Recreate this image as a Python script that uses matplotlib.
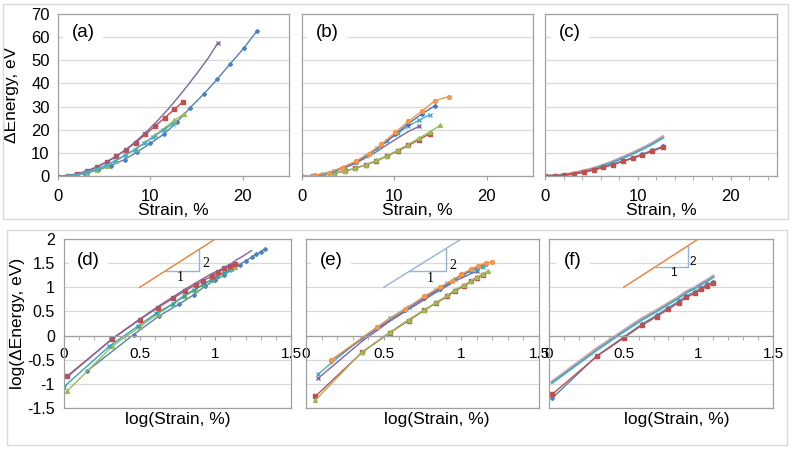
import matplotlib.pyplot as plt
import matplotlib.patches as patches

plt.rcParams['font.family'] = ['Liberation Sans', 'DejaVu Sans']
plt.rcParams['axes.unicode_minus'] = False

W, H = 793, 450

BLUE = '#4F81BD'
RED = '#C0504D'
GREEN = '#9BBB59'
PURPLE = '#8064A2'
AQUA = '#4BACC6'
ORANGE = '#F79646'
PINK = '#E6A3A2'
REF_ORANGE = '#ED7D31'
REF_BLUE = '#8DB4E2'
GRID = '#D9D9D9'
EDGE = '#A0A0A0'

# ---- (a) strain %, energy eV
a_blue_x = [0, 1.4, 2.9, 4.3, 5.7, 7.2, 8.6, 10.0, 11.5, 12.9, 14.3, 15.8, 17.2, 18.6, 20.1, 21.5]
a_blue_y = [0, 0.18, 1.05, 2.6, 4.5, 7.1, 10.5, 14.1, 18.2, 23.4, 29.5, 35.5, 41.7, 48.3, 55.2, 62.5]
a_red_x = [1.05, 2.1, 3.15, 4.2, 5.25, 6.3, 7.35, 8.4, 9.45, 10.5, 11.55, 12.6, 13.5]
a_red_y = [0.15, 0.9, 2.2, 4.0, 6.1, 8.6, 11.3, 14.4, 18.0, 21.5, 25.2, 28.8, 32.0]
a_green_x = [1.05, 2.1, 3.15, 4.2, 5.25, 6.3, 7.35, 8.4, 9.45, 10.5, 11.55, 12.6, 13.6]
a_green_y = [0.07, 0.6, 1.5, 2.8, 4.5, 6.6, 9.0, 11.6, 14.5, 17.6, 20.8, 24.0, 26.8]
a_purple_x = [1.0, 2.1, 3.2, 4.3, 5.4, 6.5, 7.6, 8.6, 9.7, 10.8, 11.9, 13.0, 14.1, 15.2, 16.3, 17.3]
a_purple_y = [0.14, 0.9, 2.2, 4.0, 6.3, 9.0, 12.2, 15.6, 19.6, 24.0, 28.8, 34.0, 39.5, 45.2, 51.2, 57.5]
a_aqua_x = [1.0, 2.0, 3.1, 4.1, 5.2, 6.2, 7.2, 8.3, 9.3, 10.3, 11.4, 12.4]
a_aqua_y = [0.09, 0.6, 1.6, 2.9, 4.6, 6.6, 8.9, 11.4, 14.1, 16.9, 19.9, 22.5]

# ---- (b)
b_orange_x = [0, 1.4, 2.9, 4.3, 5.8, 7.2, 8.6, 10.1, 11.5, 13.0, 14.4, 15.9]
b_orange_y = [0, 0.3, 1.5, 3.6, 6.3, 9.7, 13.7, 18.9, 23.6, 28.1, 32.6, 34.3]
b_blue_x = [0, 1.4, 2.9, 4.3, 5.8, 7.2, 8.6, 10.1, 11.5, 13.0, 14.4]
b_blue_y = [0, 0.3, 1.4, 3.4, 6.0, 9.3, 13.2, 18.0, 22.6, 26.9, 30.4]
b_aqua_x = [1.2, 2.3, 3.5, 4.6, 5.8, 6.9, 8.1, 9.2, 10.4, 11.5, 12.7, 13.8]
b_aqua_y = [0.16, 0.9, 2.3, 4.0, 6.2, 8.8, 11.9, 15.2, 18.6, 21.6, 24.2, 26.4]
b_purple_x = [1.2, 2.3, 3.5, 4.6, 5.8, 6.9, 8.1, 9.2, 10.4, 11.5, 12.7]
b_purple_y = [0.13, 0.75, 2.0, 3.5, 5.5, 7.9, 10.6, 13.5, 16.5, 19.2, 21.5]
b_red_x = [1.15, 2.3, 3.45, 4.6, 5.75, 6.9, 8.05, 9.2, 10.35, 11.5, 12.65, 13.8]
b_red_y = [0.055, 0.45, 1.15, 2.05, 3.3, 4.8, 6.5, 8.6, 10.8, 13.2, 15.7, 18.2]
b_green_x = [1.15, 2.3, 3.45, 4.6, 5.75, 6.9, 8.05, 9.2, 10.35, 11.5, 12.65, 13.8, 14.95]
b_green_y = [0.05, 0.46, 1.17, 2.1, 3.4, 4.9, 6.7, 8.8, 11.1, 13.6, 16.3, 18.9, 21.9]

# ---- (c)
c_x = [0, 1.05, 2.1, 3.15, 4.2, 5.25, 6.3, 7.35, 8.4, 9.45, 10.5, 11.55, 12.7]
c_pink_y = [0, 0.11, 0.54, 1.26, 2.24, 3.3, 4.7, 6.3, 8.1, 10.0, 12.0, 14.1, 17.0]
c_aqua_y = [0, 0.1, 0.5, 1.2, 2.1, 3.2, 4.5, 6.0, 7.8, 9.6, 11.6, 13.8, 16.5]
c_blue_y = [0, 0.05, 0.38, 0.95, 1.7, 2.7, 3.85, 5.1, 6.5, 7.9, 9.5, 11.1, 12.8]
c_red_y = [0, 0.06, 0.37, 0.9, 1.6, 2.6, 3.7, 4.9, 6.3, 7.6, 9.1, 10.7, 12.4]

# ---- (d) log strain, log energy
d_blue_x = [0.15, 0.46, 0.63, 0.76, 0.86, 0.93, 1.0, 1.06, 1.11, 1.16, 1.2, 1.24, 1.27, 1.3, 1.33]
d_blue_y = [-0.74, 0.02, 0.41, 0.65, 0.85, 1.02, 1.15, 1.26, 1.37, 1.47, 1.55, 1.62, 1.68, 1.74, 1.80]
d_red_x = [0.02, 0.32, 0.5, 0.62, 0.72, 0.8, 0.87, 0.92, 0.98, 1.02, 1.06, 1.1, 1.13]
d_red_y = [-0.84, -0.07, 0.33, 0.58, 0.77, 0.93, 1.05, 1.14, 1.24, 1.32, 1.40, 1.45, 1.49]
d_green_x = [0.02, 0.32, 0.5, 0.62, 0.72, 0.8, 0.87, 0.92, 0.98, 1.02, 1.06, 1.1, 1.13]
d_green_y = [-1.15, -0.22, 0.18, 0.45, 0.65, 0.82, 0.95, 1.06, 1.16, 1.25, 1.32, 1.38, 1.43]
d_purple_x = [0.02, 0.32, 0.5, 0.62, 0.72, 0.8, 0.87, 0.93, 0.98, 1.03, 1.07, 1.11, 1.14, 1.18, 1.21, 1.24]
d_purple_y = [-0.86, -0.06, 0.34, 0.6, 0.8, 0.96, 1.09, 1.2, 1.29, 1.36, 1.43, 1.50, 1.57, 1.64, 1.70, 1.76]
d_aqua_x = [0.0, 0.3, 0.49, 0.61, 0.72, 0.79, 0.86, 0.92, 0.97, 1.01, 1.06, 1.09]
d_aqua_y = [-1.06, -0.22, 0.2, 0.46, 0.66, 0.82, 0.95, 1.06, 1.15, 1.23, 1.30, 1.35]

# ---- (e)
e_orange_x = [0.16, 0.46, 0.64, 0.76, 0.86, 0.94, 1.0, 1.06, 1.11, 1.16, 1.2]
e_orange_y = [-0.51, 0.18, 0.55, 0.81, 1.0, 1.14, 1.27, 1.37, 1.45, 1.51, 1.53]
e_blue_x = [0.16, 0.46, 0.64, 0.76, 0.86, 0.94, 1.0, 1.06, 1.11, 1.16]
e_blue_y = [-0.52, 0.15, 0.53, 0.78, 0.97, 1.12, 1.26, 1.35, 1.43, 1.48]
e_aqua_x = [0.08, 0.36, 0.54, 0.66, 0.76, 0.84, 0.91, 0.96, 1.02, 1.06, 1.1, 1.14]
e_aqua_y = [-0.79, -0.05, 0.36, 0.6, 0.79, 0.94, 1.08, 1.18, 1.27, 1.33, 1.38, 1.42]
e_purple_x = [0.08, 0.36, 0.54, 0.66, 0.76, 0.84, 0.91, 0.96, 1.02, 1.06, 1.1]
e_purple_y = [-0.88, -0.12, 0.3, 0.54, 0.74, 0.9, 1.03, 1.13, 1.22, 1.28, 1.33]
e_red_x = [0.06, 0.36, 0.54, 0.66, 0.76, 0.84, 0.91, 0.96, 1.02, 1.06, 1.1, 1.14]
e_red_y = [-1.26, -0.35, 0.06, 0.31, 0.52, 0.68, 0.81, 0.93, 1.03, 1.12, 1.2, 1.26]
e_green_x = [0.06, 0.36, 0.54, 0.66, 0.76, 0.84, 0.91, 0.96, 1.02, 1.06, 1.1, 1.14, 1.17]
e_green_y = [-1.34, -0.34, 0.07, 0.33, 0.53, 0.69, 0.83, 0.95, 1.05, 1.13, 1.21, 1.28, 1.34]

# ---- (f)
f_x = [0.02, 0.32, 0.5, 0.62, 0.72, 0.8, 0.87, 0.92, 0.98, 1.02, 1.06, 1.1]
f_pink_y = [-0.96, -0.27, 0.1, 0.35, 0.52, 0.67, 0.8, 0.91, 1.0, 1.08, 1.15, 1.23]
f_aqua_y = [-0.98, -0.3, 0.08, 0.32, 0.5, 0.65, 0.78, 0.89, 0.98, 1.06, 1.13, 1.21]
f_blue_y = [-1.3, -0.42, -0.03, 0.23, 0.42, 0.58, 0.71, 0.82, 0.91, 0.99, 1.06, 1.11]
f_red_y = [-1.22, -0.43, -0.05, 0.21, 0.39, 0.55, 0.68, 0.79, 0.88, 0.96, 1.03, 1.09]

# slope-2 guide lines and the 1:2 triangles
guide_x = [0.5, 1.0]
guide_y = [1.0, 2.0]
d_tri_x = [0.67, 0.89, 0.89]
d_tri_y = [1.34, 1.34, 1.78]
e_tri_x = [0.67, 0.90, 0.90]
e_tri_y = [1.34, 1.34, 1.80]
f_tri_x = [0.71, 0.93, 0.93]
f_tri_y = [1.42, 1.42, 1.86]

log_ticks = [-1.5, -1, -0.5, 0, 0.5, 1, 1.5, 2]
log_tick_labels = ['-1.5', '-1', '-0.5', '0', '0.5', '1', '1.5', '2']


fig = plt.figure(figsize=(W / 100, H / 100), dpi=100)

# light frames around the two rows
for x0, y0, x1, y1 in [(3, 4, 788, 219), (7, 230, 787, 445)]:
    fig.add_artist(patches.Rectangle((x0 / W, 1 - y1 / H), (x1 - x0) / W, (y1 - y0) / H,
                                     transform=fig.transFigure, fill=False,
                                     edgecolor=GRID, lw=1))


def px_axes(l, r, t, b):
    return fig.add_axes([l / W, 1 - b / H, (r - l) / W, (b - t) / H])


def panel_label(ax, x, y, s):
    ax.text(x, y, s, fontsize=13.5, ha='center', va='center', zorder=5,
            bbox=dict(facecolor='white', edgecolor='none', pad=6))


def style_top(ax, letter, ylabel=False, minor=False):
    ax.set_xlim(0, 25)
    ax.set_ylim(0, 70)
    ax.set_xticks([0, 10, 20])
    ax.set_yticks(range(0, 71, 10))
    if minor:
        ax.set_xticks(range(0, 26, 2), minor=True)
    ax.grid(axis='y', color=GRID, lw=0.9)
    ax.set_axisbelow(True)
    for sp in ax.spines.values():
        sp.set_color(EDGE)
        sp.set_linewidth(0.9)
    ax.tick_params(axis='x', which='both', length=3, color=EDGE, labelsize=12, pad=6)
    ax.tick_params(axis='y', length=0, labelsize=12, pad=6)
    if not ylabel:
        ax.set_yticklabels([])
    else:
        ax.set_ylabel('ΔEnergy, eV', fontsize=12.5)
        ax.yaxis.set_label_coords(-0.169, 0.5)
    ax.set_xlabel('Strain, %', fontsize=12.5)
    ax.xaxis.set_label_coords(0.5, -0.215)
    ax.xaxis.label.set_va('center')
    panel_label(ax, 2.7, 62, letter)


def style_bottom(ax, letter, lx, ylabel=False):
    ax.set_xlim(0, 1.5)
    ax.set_ylim(-1.5, 2)
    ax.set_xticks([0, 0.5, 1, 1.5])
    ax.set_xticklabels(['0', '0.5', '1', '1.5'])
    ax.set_xticks([i / 10 for i in range(16)], minor=True)
    ax.set_yticks(log_ticks)
    ax.grid(axis='y', color=GRID, lw=0.9)
    ax.set_axisbelow(True)
    for sp in ax.spines.values():
        sp.set_color(EDGE)
        sp.set_linewidth(0.9)
    ax.spines['bottom'].set_position(('data', 0))
    ax.axhline(-1.5, color=EDGE, lw=0.9, clip_on=False)
    ax.tick_params(axis='x', which='both', length=3, color=EDGE, labelsize=11, pad=5.5)
    ax.tick_params(axis='y', length=0, labelsize=11.5, pad=6.5)
    if ylabel:
        ax.set_yticklabels(log_tick_labels)
        ax.set_ylabel('log(ΔEnergy, eV)', fontsize=12.5)
        ax.yaxis.set_label_coords(-0.172, 0.5)
    else:
        ax.set_yticklabels([])
    ax.text(lx, -0.071, 'log(Strain, %)', transform=ax.transAxes, fontsize=12.5,
            ha='center', va='center')
    panel_label(ax, 0.16, 1.55, letter)


# ---------- (a)
ax = px_axes(58, 289, 14, 176)
ax.plot(a_blue_x, a_blue_y, color=BLUE, marker='D', ms=2, lw=1)
ax.plot(a_red_x, a_red_y, color=RED, marker='s', ms=2.8, lw=1)
ax.plot(a_green_x, a_green_y, color=GREEN, marker='^', ms=2.8, lw=1)
ax.plot(a_purple_x, a_purple_y, color=PURPLE, marker='x', ms=3, lw=1, markevery=[-1])
ax.plot(a_aqua_x, a_aqua_y, color=AQUA, marker='x', ms=2.5, lw=1)
style_top(ax, '(a)', ylabel=True)

# ---------- (b)
ax = px_axes(302, 533, 14, 176)
ax.plot(b_red_x, b_red_y, color=RED, marker='s', ms=2.8, lw=1)
ax.plot(b_green_x, b_green_y, color=GREEN, marker='^', ms=2.8, lw=1)
ax.plot(b_purple_x, b_purple_y, color=PURPLE, marker='x', ms=3, lw=1, markevery=[0, -1])
ax.plot(b_aqua_x, b_aqua_y, color=AQUA, marker='x', ms=2.5, lw=1)
ax.plot(b_blue_x, b_blue_y, color='#4472C4', marker='D', ms=2, lw=1)
ax.plot(b_orange_x, b_orange_y, color=ORANGE, marker='o', ms=2.8, lw=1)
style_top(ax, '(b)')

# ---------- (c)
ax = px_axes(545, 777, 14, 176)
ax.plot(c_x, c_pink_y, color=PINK, lw=2.2)
ax.plot(c_x, c_aqua_y, color=AQUA, lw=1.6)
ax.plot(c_x, c_blue_y, color=BLUE, marker='D', ms=2, lw=1)
ax.plot(c_x, c_red_y, color=RED, marker='s', ms=2.8, lw=1)
style_top(ax, '(c)', minor=True)

# ---------- (d)
ax = px_axes(64, 291, 239, 408)
ax.plot(guide_x, guide_y, color=REF_ORANGE, lw=1)
ax.plot(d_tri_x, d_tri_y, color=REF_BLUE, lw=1)
ax.text(0.77, 1.21, '1', fontsize=10, family='Liberation Serif', ha='center', va='center')
ax.text(0.935, 1.5, '2', fontsize=10, family='Liberation Serif', ha='center', va='center')
ax.plot(d_blue_x, d_blue_y, color=BLUE, marker='D', ms=2, lw=1)
ax.plot(d_green_x, d_green_y, color=GREEN, marker='^', ms=2.8, lw=1)
ax.plot(d_aqua_x, d_aqua_y, color='#31A5B5', marker='x', ms=2.5, lw=1)
ax.plot(d_red_x, d_red_y, color=RED, marker='s', ms=2.8, lw=1)
ax.plot(d_purple_x, d_purple_y, color=PURPLE, lw=1)
style_bottom(ax, '(d)', 0.5, ylabel=True)

# ---------- (e)
ax = px_axes(306, 539, 239, 408)
ax.plot(guide_x, guide_y, color='#95B3D7', lw=1)
ax.plot(e_tri_x, e_tri_y, color='#95B3D7', lw=1)
ax.text(0.8, 1.19, '1', fontsize=10, family='Liberation Serif', ha='center', va='center')
ax.text(0.945, 1.46, '2', fontsize=10, family='Liberation Serif', ha='center', va='center')
ax.plot(e_red_x, e_red_y, color=RED, marker='s', ms=2.8, lw=1)
ax.plot(e_green_x, e_green_y, color=GREEN, marker='^', ms=2.8, lw=1)
ax.plot(e_purple_x, e_purple_y, color=PURPLE, marker='x', ms=3, lw=1, markevery=[0, -1])
ax.plot(e_aqua_x, e_aqua_y, color=AQUA, marker='x', ms=2.5, lw=1)
ax.plot(e_blue_x, e_blue_y, color='#4472C4', marker='D', ms=2, lw=1)
ax.plot(e_orange_x, e_orange_y, color=ORANGE, marker='o', ms=2.8, lw=1)
style_bottom(ax, '(e)', 0.56)

# ---------- (f)
ax = px_axes(549, 773, 239, 408)
ax.plot(guide_x, guide_y, color=REF_ORANGE, lw=1)
ax.plot(f_tri_x, f_tri_y, color=REF_BLUE, lw=1)
ax.text(0.83, 1.29, '1', fontsize=8.5, ha='center', va='center')
ax.text(0.965, 1.53, '2', fontsize=8.5, ha='center', va='center')
ax.plot(f_x, f_pink_y, color=PINK, lw=2.2)
ax.plot(f_x, f_aqua_y, color=AQUA, lw=1.6)
ax.plot(f_x, f_blue_y, color=BLUE, marker='D', ms=2, lw=1)
ax.plot(f_x, f_red_y, color=RED, marker='s', ms=2.8, lw=1)
style_bottom(ax, '(f)', 0.57)

fig.savefig('out.png', dpi=100)
